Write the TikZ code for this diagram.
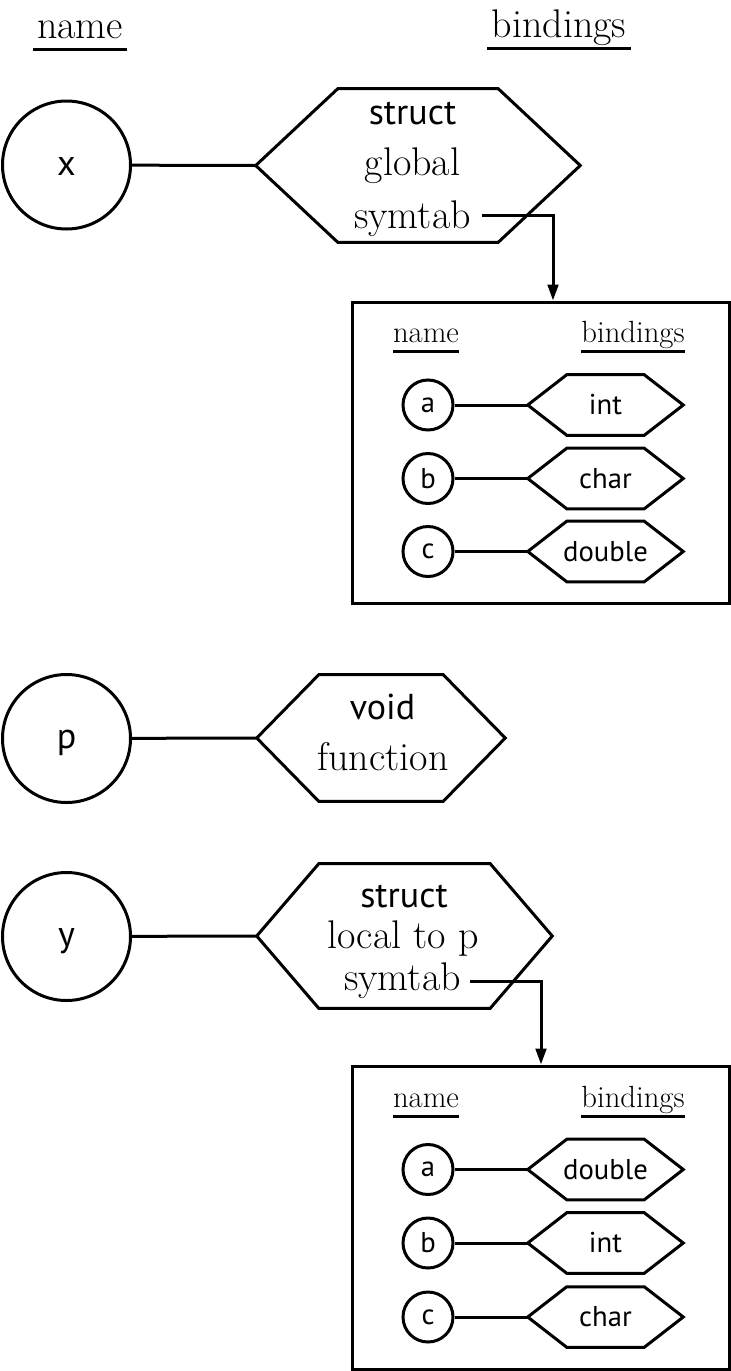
\documentclass[tikz,border=0pt]{standalone}
\usepackage{fontspec}
\newfontfamily\sansf{PT Sans}
\usetikzlibrary{arrows.meta}
\newcommand\hexout[2]{\draw[ln] (#1.west) -- ([xshift=#2]#1.north west) -- ([xshift=-#2]#1.north east) -- (#1.east) -- ([xshift=-#2]#1.south east) -- ([xshift=#2]#1.south west) -- cycle;}
\tikzset{
  ln/.style={line width=2.25pt, line join=miter},
  serifbig/.style={font=\fontsize{30}{36}\selectfont, inner sep=0pt},
  sansbig/.style={font=\sansf\fontsize{27}{32}\selectfont, inner sep=0pt},
  bigcircle/.style={circle, draw, ln, minimum size=96pt, inner sep=0pt, font=\sansf\fontsize{27}{32}\selectfont, text height=15pt, text depth=0pt},
  smallcircle/.style={circle, draw, ln, minimum size=37.5pt, inner sep=0pt, font=\sansf\fontsize{21.5}{26}\selectfont},
  hexnode/.style={rectangle, draw=none, inner sep=0pt},
  smallhex/.style={hexnode, minimum width=116.25pt, minimum height=45pt, font=\sansf\fontsize{21.5}{26}\selectfont},
  headbig/.style={font=\fontsize{30}{36}\selectfont, inner xsep=3pt, inner ysep=0pt, text depth=8.25pt, anchor=base},
  headsmall/.style={font=\fontsize{23}{28}\selectfont, inner xsep=0pt, inner ysep=0pt, text depth=6.75pt, anchor=base},
  tablebox/.style={rectangle, draw, ln, minimum width=282.4pt, inner sep=0pt},
  arr/.style={ln, -{Triangle[length=12pt,width=8pt]}},
}
\begin{document}
\begin{tikzpicture}[x=0.75pt, y=-0.75pt]
\useasboundingbox (0,0) rectangle (731,1371);

% top headers
\node[headbig] (hname) at (80,38) {name};
\node[headbig] (hbind) at (559,37) {bindings};
\draw[ln] (hname.south west) -- (hname.south east);
\draw[ln] (hbind.south west) -- (hbind.south east);

% x entry
\node[bigcircle] (x) at (66.5,165) {x};
\node[hexnode, minimum width=243pt, minimum height=114.75pt] (hx) at (418,165.5) {};
\hexout{hx}{61.5pt}
\draw[ln] (x) -- (hx.west);
\node[sansbig, anchor=base] (hx1) at (412.5,124) {struct};
\node[serifbig, anchor=base] (hx2) at (412.5,175) {global};
\node[serifbig, anchor=base] (hx3) at (412.5,228) {symtab};

% global symtab box
\node[tablebox, minimum height=225.75pt] (box1) at (541,452.5) {};
\coordinate (s1) at (482,215);
\draw[arr] (s1) -| ([xshift=9pt]box1.north);
\node[headsmall] (b1name) at (426,342) {name};
\node[headsmall] (b1bind) at (633,342) {bindings};
\draw[ln] (b1name.south west) -- (b1name.south east);
\draw[ln] (b1bind.south west) -- (b1bind.south east);
\node[smallcircle] (b1a) at (428,405) {a};
\node[smallcircle] (b1b) at (428,478.5) {b};
\node[smallcircle] (b1c) at (428,551.5) {c};
\node[smallhex] (b1ta) at (605.5,405) {int};
\node[smallhex] (b1tb) at (605.5,478.5) {char};
\node[smallhex] (b1tc) at (605.5,551.5) {double};
\hexout{b1ta}{29.25pt}
\hexout{b1tb}{29.25pt}
\hexout{b1tc}{29.25pt}
\draw[ln] (b1a) -- (b1ta.west);
\draw[ln] (b1b) -- (b1tb.west);
\draw[ln] (b1c) -- (b1tc.west);

% p entry
\node[bigcircle] (p) at (66.5,738.5) {p};
\node[hexnode, minimum width=186pt, minimum height=94.5pt] (hp) at (381,738) {};
\hexout{hp}{46.5pt}
\draw[ln] (p) -- (hp.west);
\node[sansbig, anchor=base] (hp1) at (382.5,719) {void};
\node[serifbig, anchor=base] (hp2) at (383,770) {function};

% y entry
\node[bigcircle] (y) at (66.5,936.5) {y};
\node[hexnode, minimum width=221.25pt, minimum height=108pt] (hy) at (404.5,936) {};
\hexout{hy}{46.5pt}
\draw[ln] (y) -- (hy.west);
\node[sansbig, anchor=base] (hy1) at (404,907) {struct};
\node[serifbig, anchor=base] (hy2) at (403,948) {local to p};
\node[serifbig, anchor=base] (hy3) at (402.5,990) {symtab};

% local symtab box
\node[tablebox, minimum height=227.25pt] (box2) at (541,1217.5) {};
\coordinate (s2) at (470,981);
\draw[arr] (s2) -| (box2.north);
\node[headsmall] (b2name) at (426,1107) {name};
\node[headsmall] (b2bind) at (633,1107) {bindings};
\draw[ln] (b2name.south west) -- (b2name.south east);
\draw[ln] (b2bind.south west) -- (b2bind.south east);
\node[smallcircle] (b2a) at (428,1169.5) {a};
\node[smallcircle] (b2b) at (428,1243) {b};
\node[smallcircle] (b2c) at (428,1317) {c};
\node[smallhex] (b2ta) at (605.5,1169.5) {double};
\node[smallhex] (b2tb) at (605.5,1243) {int};
\node[smallhex] (b2tc) at (605.5,1317) {char};
\hexout{b2ta}{29.25pt}
\hexout{b2tb}{29.25pt}
\hexout{b2tc}{29.25pt}
\draw[ln] (b2a) -- (b2ta.west);
\draw[ln] (b2b) -- (b2tb.west);
\draw[ln] (b2c) -- (b2tc.west);
\end{tikzpicture}
\end{document}
